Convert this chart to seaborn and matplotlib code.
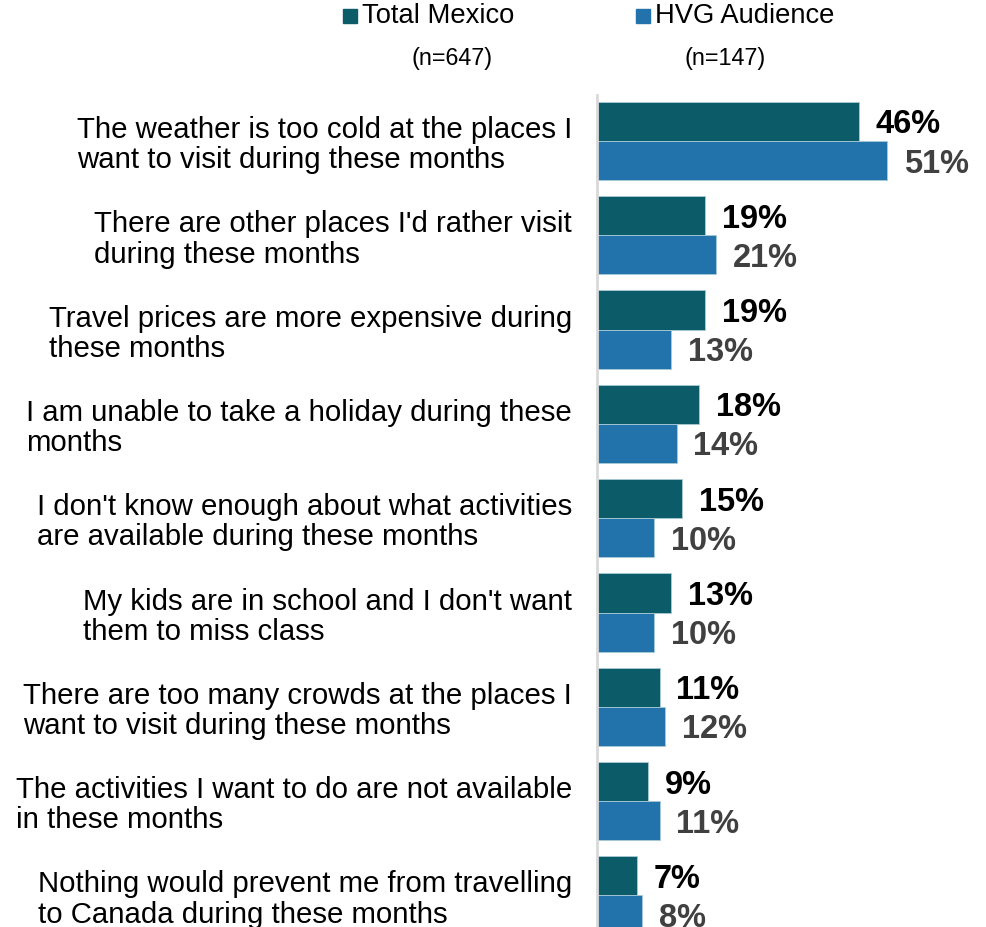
import matplotlib
matplotlib.use("Agg")
import matplotlib.pyplot as plt
import seaborn as sns
import pandas as pd

categories = [
    "The weather is too cold at the places I\nwant to visit during these months",
    "There are other places I'd rather visit\nduring these months",
    "Travel prices are more expensive during\nthese months",
    "I am unable to take a holiday during these\nmonths",
    "I don't know enough about what activities\nare available during these months",
    "My kids are in school and I don't want\nthem to miss class",
    "There are too many crowds at the places I\nwant to visit during these months",
    "The activities I want to do are not available\nin these months",
    "Nothing would prevent me from travelling\nto Canada during these months",
]
total_mexico = [46, 19, 19, 18, 15, 13, 11, 9, 7]
hvg_audience = [51, 21, 13, 14, 10, 10, 12, 11, 8]
series_names = ["Total Mexico", "HVG Audience"]
sample_sizes = ["(n=647)", "(n=147)"]
colors = ["#0B5B69", "#2272AC"]
label_colors = ["#000000", "#404040"]

sns.set_theme(style="white")
plt.rcParams["font.family"] = ["Liberation Sans", "DejaVu Sans"]

df = pd.DataFrame({
    "Reason": categories * 2,
    "Share": total_mexico + hvg_audience,
    "Group": [series_names[0]] * len(categories) + [series_names[1]] * len(categories),
})

W, H = 986, 927
fig = plt.figure(figsize=(W / 100, H / 100), dpi=100)
ax = fig.add_axes([597 / W, 0, (W - 597) / W, (927 - 95) / H])

sns.barplot(data=df, y="Reason", x="Share", hue="Group", orient="h",
            palette=colors, saturation=1, width=0.83, ax=ax, legend=False,
            edgecolor="#a8cad6", linewidth=0.6)

ax.set_xlim(0, 68.4)
ax.set_ylim(8.335, -0.488)
ax.set_xlabel("")
ax.set_ylabel("")
ax.set_xticks([])
ax.set_yticks(range(len(categories)))
ax.set_yticklabels(categories, fontsize=21.2, color="#000000",
                   multialignment="left", linespacing=1.1)
ax.tick_params(axis="y", length=0, pad=18)
for s in ["top", "right", "bottom"]:
    ax.spines[s].set_visible(False)
ax.spines["left"].set_color("#D9D9D9")
ax.spines["left"].set_linewidth(2)

for container, lc in zip(ax.containers, label_colors):
    texts = ax.bar_label(container,
                         labels=[f"{v:.0f}%" for v in container.datavalues],
                         padding=12, fontsize=23.5, fontweight="bold",
                         color=lc, clip_on=False)
    # nudge the value labels down so the digits sit centred on the bars
    for t in texts:
        t.xyann = (12, -2.5)

# legend drawn as figure text above the bars
for name, n, c, sx, nx in zip(series_names, sample_sizes, colors,
                              [343, 636], [452, 725]):
    fig.patches.append(plt.Rectangle((sx / W, 1 - 23 / H), 14 / W, 14 / H,
                                     transform=fig.transFigure, color=c))
    fig.text((sx + 19) / W, 1 - 16 / H, name, fontsize=19.7, va="center",
             ha="left", color="#000000")
    fig.text(nx / W, 1 - 58 / H, n, fontsize=16.8, va="center", ha="center",
             color="#000000")

fig.savefig("out.png", dpi=100)
